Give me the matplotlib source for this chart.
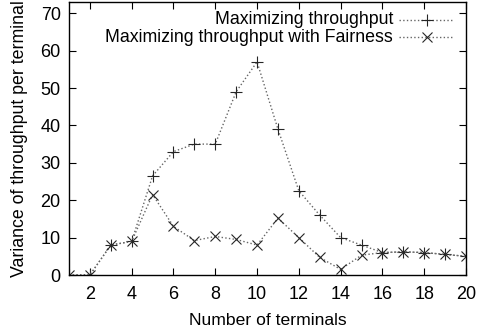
import matplotlib
matplotlib.use("Agg")
import matplotlib.pyplot as plt

terminals = list(range(1, 21))
throughput = [0, 0, 8, 9, 26.5, 33, 35, 35, 49, 57, 39, 22.5, 16, 10, 8, 6, 6.2, 6, 5.5, 5]
fairness = [0, 0, 8, 9, 21.5, 13, 9.2, 10.3, 9.5, 8, 15.2, 10, 4.7, 1.5, 5.3, 6, 6.2, 6, 5.5, 5]
labels = ["Maximizing throughput", "Maximizing throughput with Fairness"]
xticks = list(range(2, 21, 2))
yticks = list(range(0, 71, 10))

plt.rcParams['font.family'] = ['Liberation Sans', 'DejaVu Sans']
fig = plt.figure(figsize=(4.85, 3.34), dpi=100)
ax = fig.add_axes([69/485, 59/334, (466-69)/485, (275-2)/334])

line_kw = dict(linestyle=':', color='0.4', linewidth=1.0, markeredgecolor='0.15',
               markeredgewidth=0.8)
ax.plot(terminals, throughput, marker='+', markersize=9, **line_kw)
ax.plot(terminals, fairness, marker='x', markersize=7, **line_kw)

ax.set_xlim(1, 20)
ax.set_ylim(0, 73)
ax.set_xticks(xticks)
ax.set_yticks(yticks)
ax.tick_params(direction='in', top=True, right=True, length=5, labelsize=13, width=0.8)
ax.tick_params(axis='x', pad=8)
ax.tick_params(axis='y', pad=6)
for s in ax.spines.values():
    s.set_linewidth(1.0)
ax.set_xlabel("Number of terminals", fontsize=12.6, labelpad=7)
ax.set_ylabel("Variance of throughput per terminal", fontsize=12.8, labelpad=9)

# legend (gnuplot style: right-aligned text, sample to the right)
markers = ['+', 'x']
msizes = [9, 7]
for i, (lab, m, ms) in enumerate(zip(labels, markers, msizes)):
    yy = 1 - (20 + 17 * i - 2) / 273
    ax.text((393 - 69) / 397, yy, lab, transform=ax.transAxes, ha='right', va='center', fontsize=12.8)
    ax.plot([(399 - 69) / 397, (452 - 69) / 397], [yy, yy], transform=ax.transAxes,
            linestyle=':', color='0.4', linewidth=1.0, clip_on=False)
    ax.plot([(427 - 69) / 397], [yy], transform=ax.transAxes, marker=m, markersize=ms,
            linestyle='none', markeredgecolor='0.15', markeredgewidth=0.8)

fig.savefig("out.png", dpi=100)
